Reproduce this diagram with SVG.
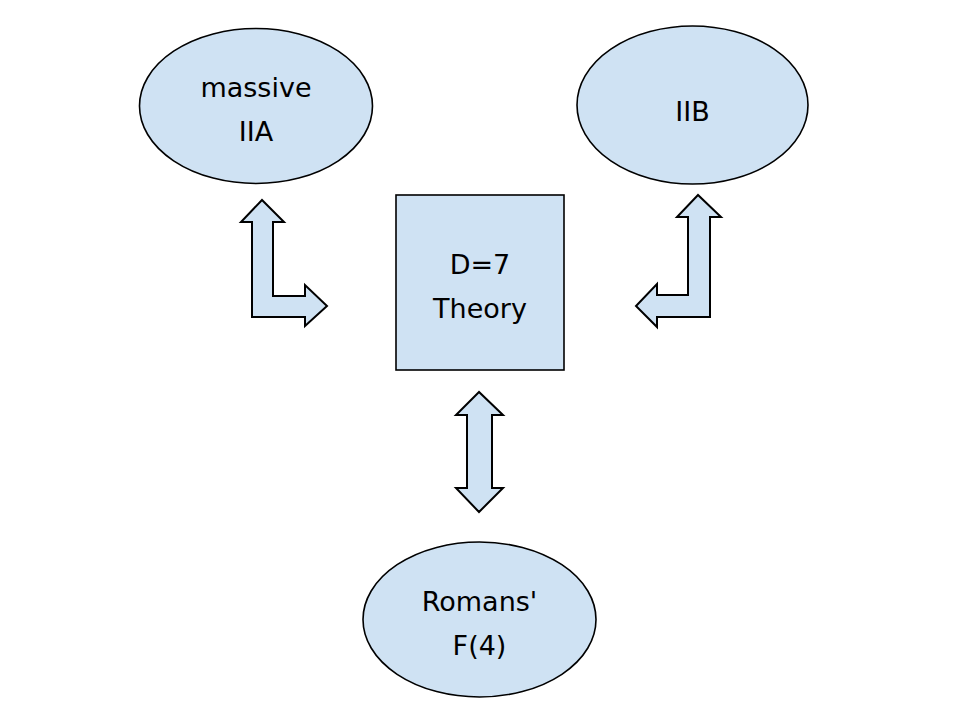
<svg xmlns="http://www.w3.org/2000/svg" width="960" height="720" viewBox="0 0 960 720">
<style>
.shape{fill:#cfe2f3;stroke:#000;stroke-width:1.6}
.arrow{fill:#cfe2f3;stroke:#000;stroke-width:2;stroke-linejoin:miter}
.lbl{font-family:"DejaVu Sans","Liberation Sans",sans-serif;font-size:27px;fill:#000;text-anchor:middle}
</style>
<rect width="960" height="720" fill="#fff"/>
<g id="massive-iia">
<ellipse class="shape" cx="256" cy="106" rx="116.5" ry="77.5"/>
<text class="lbl" x="256" y="97">massive</text>
<text class="lbl" x="256" y="141">IIA</text>
</g>
<g id="iib">
<ellipse class="shape" cx="692.5" cy="105" rx="115.5" ry="79"/>
<text class="lbl" x="692.5" y="121">IIB</text>
</g>
<g id="d7">
<rect class="shape" x="396" y="195" width="168" height="175"/>
<text class="lbl" x="480" y="274">D=7</text>
<text class="lbl" x="480" y="318">Theory</text>
</g>
<g id="romans">
<ellipse class="shape" cx="479.5" cy="619.5" rx="116.5" ry="77.5"/>
<text class="lbl" x="479.5" y="611">Romans'</text>
<text class="lbl" x="479.5" y="655">F(4)</text>
</g>
<g id="connectors">
<path class="arrow" d="M262,200 L241,222 L252,222 L252,317 L305,317 L305,326 L327,306 L305,285 L305,296 L273,296 L273,222 L284,222 Z"/>
<path class="arrow" d="M698,195 L677,217 L688,217 L688,295 L657,295 L657,284 L636,306 L657,327 L657,317 L710,317 L710,217 L721,217 Z"/>
<path class="arrow" d="M479,392 L456,415 L467,415 L467,488 L456,488 L479,512 L503,488 L492,488 L492,415 L503,415 Z"/>
</g>
</svg>
